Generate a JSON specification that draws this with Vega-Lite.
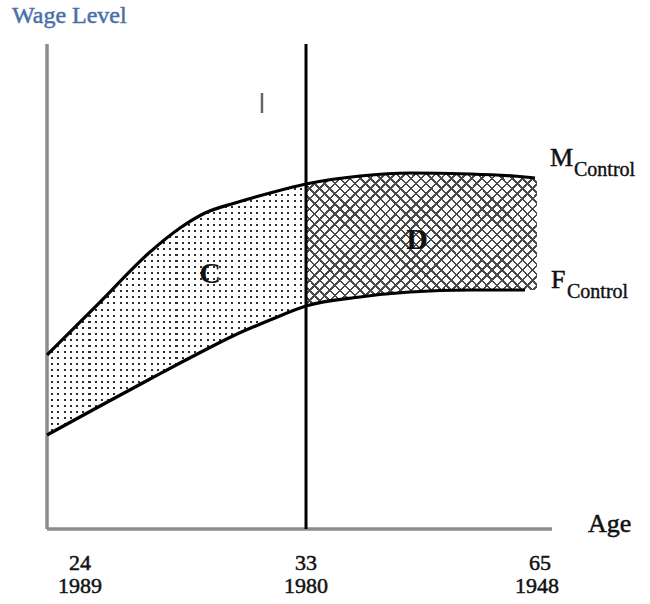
{
"$schema": "https://vega.github.io/schema/vega-lite/v6.json",
"width": 650, "height": 604, "padding": 0, "autosize": {"type": "none"},
"background": "white",
"config": {"view": {"stroke": null}},
"datasets": {
"band": [
{"region":"C","x":0,"y":35.88,"y2":19.38},
{"region":"C","x":10.5,"y":46.8,"y2":25.36},
{"region":"C","x":20.4,"y":57.11,"y2":30.93},
{"region":"C","x":26.34,"y":62.06,"y2":34.23},
{"region":"C","x":31.29,"y":65.15,"y2":36.91},
{"region":"C","x":37.23,"y":67.22,"y2":40.0},
{"region":"C","x":44.16,"y":69.28,"y2":43.09},
{"region":"C","x":51.29,"y":71.13,"y2":45.98},
{"region":"D","x":51.29,"y":71.13,"y2":45.98},
{"region":"D","x":61.98,"y":72.78,"y2":47.84},
{"region":"D","x":71.88,"y":73.4,"y2":48.87},
{"region":"D","x":83.76,"y":73.2,"y2":49.28},
{"region":"D","x":94.65,"y":72.58,"y2":49.28},
{"region":"D","x":97.03,"y":72.37,"y2":49.28}
],
"curves": [
{"series":"M","x":0,"y":35.88},{"series":"M","x":10.5,"y":46.8},{"series":"M","x":20.4,"y":57.11},{"series":"M","x":26.34,"y":62.06},{"series":"M","x":31.29,"y":65.15},{"series":"M","x":37.23,"y":67.22},{"series":"M","x":44.16,"y":69.28},{"series":"M","x":51.29,"y":71.13},{"series":"M","x":61.98,"y":72.78},{"series":"M","x":71.88,"y":73.4},{"series":"M","x":83.76,"y":73.2},{"series":"M","x":94.65,"y":72.58},{"series":"M","x":96.63,"y":72.37},
{"series":"F","x":0,"y":19.38},{"series":"F","x":10.5,"y":25.36},{"series":"F","x":20.4,"y":30.93},{"series":"F","x":26.34,"y":34.23},{"series":"F","x":31.29,"y":36.91},{"series":"F","x":37.23,"y":40.0},{"series":"F","x":44.16,"y":43.09},{"series":"F","x":51.29,"y":45.98},{"series":"F","x":61.98,"y":47.84},{"series":"F","x":71.88,"y":48.87},{"series":"F","x":83.76,"y":49.28},{"series":"F","x":94.65,"y":49.28}
],
"frame": [{"x":0,"y":0,"x2":0,"y2":100},{"x":0,"y":0,"x2":100,"y2":0}],
"vline": [{"x":51.29,"y":0,"y2":100}],
"stray": [{"x":42.57,"y":89.9,"y2":85.77}],
"ticks": [{"label":"24","x":6.53,"y":-8.45},{"label":"1989","x":6.53,"y":-13.2},{"label":"33","x":51.29,"y":-8.45},{"label":"1980","x":51.29,"y":-13.2},{"label":"65","x":97.62,"y":-8.45},{"label":"1948","x":97.03,"y":-13.2}],
"big": [{"label":"M","x":99.6,"y":74.85},{"label":"F","x":99.8,"y":49.69},{"label":"Age","x":107.13,"y":-0.62}],
"sub": [{"label":"Control","x":104.36,"y":72.78},{"label":"Control","x":102.97,"y":47.63}],
"regions": [{"label":"C","x":32.28,"y":50.72},{"label":"D","x":73.27,"y":57.73}],
"title": [{"label":"Wage Level","x":-6.93,"y":104.4}]
},
"encoding": {
"x": {"field":"x","type":"quantitative","scale":{"domain":[-9.31,119.41],"nice":false,"zero":false},"axis":null},
"y": {"field":"y","type":"quantitative","scale":{"domain":[-15.46,109.07],"nice":false,"zero":false},"axis":null}
},
"layer": [
{"data":{"name":"band"},"transform":[{"filter":"datum.region==='C'"}],"mark":{"type":"area","interpolate":"monotone","fill":"#2e2e2e"},"encoding":{"y2":{"field":"y2"}}},
{"data":{"name":"band"},"transform":[{"filter":"datum.region==='C'"}],"mark":{"type":"area","interpolate":"monotone","fill":{"gradient":"linear","x1":0,"y1":0,"x2":1,"y2":0,"stops":[
{"offset":0,"color":"#fff"},{"offset":0.016,"color":"#fff"},{"offset":0.016,"color":"#fff0"},{"offset":0.024,"color":"#fff0"},
{"offset":0.024,"color":"#fff"},{"offset":0.04,"color":"#fff"},{"offset":0.04,"color":"#fff0"},{"offset":0.048,"color":"#fff0"},
{"offset":0.048,"color":"#fff"},{"offset":0.064,"color":"#fff"},{"offset":0.064,"color":"#fff0"},{"offset":0.072,"color":"#fff0"},
{"offset":0.072,"color":"#fff"},{"offset":0.088,"color":"#fff"},{"offset":0.088,"color":"#fff0"},{"offset":0.096,"color":"#fff0"},
{"offset":0.096,"color":"#fff"},{"offset":0.112,"color":"#fff"},{"offset":0.112,"color":"#fff0"},{"offset":0.12,"color":"#fff0"},
{"offset":0.12,"color":"#fff"},{"offset":0.136,"color":"#fff"},{"offset":0.136,"color":"#fff0"},{"offset":0.144,"color":"#fff0"},
{"offset":0.144,"color":"#fff"},{"offset":0.16,"color":"#fff"},{"offset":0.16,"color":"#fff0"},{"offset":0.168,"color":"#fff0"},
{"offset":0.168,"color":"#fff"},{"offset":0.184,"color":"#fff"},{"offset":0.184,"color":"#fff0"},{"offset":0.192,"color":"#fff0"},
{"offset":0.192,"color":"#fff"},{"offset":0.208,"color":"#fff"},{"offset":0.208,"color":"#fff0"},{"offset":0.216,"color":"#fff0"},
{"offset":0.216,"color":"#fff"},{"offset":0.232,"color":"#fff"},{"offset":0.232,"color":"#fff0"},{"offset":0.24,"color":"#fff0"},
{"offset":0.24,"color":"#fff"},{"offset":0.256,"color":"#fff"},{"offset":0.256,"color":"#fff0"},{"offset":0.264,"color":"#fff0"},
{"offset":0.264,"color":"#fff"},{"offset":0.28,"color":"#fff"},{"offset":0.28,"color":"#fff0"},{"offset":0.288,"color":"#fff0"},
{"offset":0.288,"color":"#fff"},{"offset":0.304,"color":"#fff"},{"offset":0.304,"color":"#fff0"},{"offset":0.312,"color":"#fff0"},
{"offset":0.312,"color":"#fff"},{"offset":0.328,"color":"#fff"},{"offset":0.328,"color":"#fff0"},{"offset":0.336,"color":"#fff0"},
{"offset":0.336,"color":"#fff"},{"offset":0.352,"color":"#fff"},{"offset":0.352,"color":"#fff0"},{"offset":0.36,"color":"#fff0"},
{"offset":0.36,"color":"#fff"},{"offset":0.376,"color":"#fff"},{"offset":0.376,"color":"#fff0"},{"offset":0.384,"color":"#fff0"},
{"offset":0.384,"color":"#fff"},{"offset":0.4,"color":"#fff"},{"offset":0.4,"color":"#fff0"},{"offset":0.408,"color":"#fff0"},
{"offset":0.408,"color":"#fff"},{"offset":0.424,"color":"#fff"},{"offset":0.424,"color":"#fff0"},{"offset":0.432,"color":"#fff0"},
{"offset":0.432,"color":"#fff"},{"offset":0.448,"color":"#fff"},{"offset":0.448,"color":"#fff0"},{"offset":0.456,"color":"#fff0"},
{"offset":0.456,"color":"#fff"},{"offset":0.472,"color":"#fff"},{"offset":0.472,"color":"#fff0"},{"offset":0.48,"color":"#fff0"},
{"offset":0.48,"color":"#fff"},{"offset":0.496,"color":"#fff"},{"offset":0.496,"color":"#fff0"},{"offset":0.504,"color":"#fff0"},
{"offset":0.504,"color":"#fff"},{"offset":0.52,"color":"#fff"},{"offset":0.52,"color":"#fff0"},{"offset":0.528,"color":"#fff0"},
{"offset":0.528,"color":"#fff"},{"offset":0.544,"color":"#fff"},{"offset":0.544,"color":"#fff0"},{"offset":0.552,"color":"#fff0"},
{"offset":0.552,"color":"#fff"},{"offset":0.568,"color":"#fff"},{"offset":0.568,"color":"#fff0"},{"offset":0.576,"color":"#fff0"},
{"offset":0.576,"color":"#fff"},{"offset":0.592,"color":"#fff"},{"offset":0.592,"color":"#fff0"},{"offset":0.6,"color":"#fff0"},
{"offset":0.6,"color":"#fff"},{"offset":0.616,"color":"#fff"},{"offset":0.616,"color":"#fff0"},{"offset":0.624,"color":"#fff0"},
{"offset":0.624,"color":"#fff"},{"offset":0.64,"color":"#fff"},{"offset":0.64,"color":"#fff0"},{"offset":0.648,"color":"#fff0"},
{"offset":0.648,"color":"#fff"},{"offset":0.664,"color":"#fff"},{"offset":0.664,"color":"#fff0"},{"offset":0.672,"color":"#fff0"},
{"offset":0.672,"color":"#fff"},{"offset":0.688,"color":"#fff"},{"offset":0.688,"color":"#fff0"},{"offset":0.696,"color":"#fff0"},
{"offset":0.696,"color":"#fff"},{"offset":0.712,"color":"#fff"},{"offset":0.712,"color":"#fff0"},{"offset":0.72,"color":"#fff0"},
{"offset":0.72,"color":"#fff"},{"offset":0.736,"color":"#fff"},{"offset":0.736,"color":"#fff0"},{"offset":0.744,"color":"#fff0"},
{"offset":0.744,"color":"#fff"},{"offset":0.76,"color":"#fff"},{"offset":0.76,"color":"#fff0"},{"offset":0.768,"color":"#fff0"},
{"offset":0.768,"color":"#fff"},{"offset":0.784,"color":"#fff"},{"offset":0.784,"color":"#fff0"},{"offset":0.792,"color":"#fff0"},
{"offset":0.792,"color":"#fff"},{"offset":0.808,"color":"#fff"},{"offset":0.808,"color":"#fff0"},{"offset":0.816,"color":"#fff0"},
{"offset":0.816,"color":"#fff"},{"offset":0.832,"color":"#fff"},{"offset":0.832,"color":"#fff0"},{"offset":0.84,"color":"#fff0"},
{"offset":0.84,"color":"#fff"},{"offset":0.856,"color":"#fff"},{"offset":0.856,"color":"#fff0"},{"offset":0.864,"color":"#fff0"},
{"offset":0.864,"color":"#fff"},{"offset":0.88,"color":"#fff"},{"offset":0.88,"color":"#fff0"},{"offset":0.888,"color":"#fff0"},
{"offset":0.888,"color":"#fff"},{"offset":0.904,"color":"#fff"},{"offset":0.904,"color":"#fff0"},{"offset":0.912,"color":"#fff0"},
{"offset":0.912,"color":"#fff"},{"offset":0.928,"color":"#fff"},{"offset":0.928,"color":"#fff0"},{"offset":0.936,"color":"#fff0"},
{"offset":0.936,"color":"#fff"},{"offset":0.952,"color":"#fff"},{"offset":0.952,"color":"#fff0"},{"offset":0.96,"color":"#fff0"},
{"offset":0.96,"color":"#fff"},{"offset":0.976,"color":"#fff"},{"offset":0.976,"color":"#fff0"},{"offset":0.984,"color":"#fff0"},
{"offset":0.984,"color":"#fff"},{"offset":1,"color":"#fff"}
]}},"encoding":{"y2":{"field":"y2"}}},
{"data":{"name":"band"},"transform":[{"filter":"datum.region==='C'"}],"mark":{"type":"area","interpolate":"monotone","fill":{"gradient":"linear","x1":0,"y1":0,"x2":0,"y2":1,"stops":[
{"offset":0,"color":"#fff"},{"offset":0.016,"color":"#fff"},{"offset":0.016,"color":"#fff0"},{"offset":0.024,"color":"#fff0"},
{"offset":0.024,"color":"#fff"},{"offset":0.04,"color":"#fff"},{"offset":0.04,"color":"#fff0"},{"offset":0.048,"color":"#fff0"},
{"offset":0.048,"color":"#fff"},{"offset":0.064,"color":"#fff"},{"offset":0.064,"color":"#fff0"},{"offset":0.072,"color":"#fff0"},
{"offset":0.072,"color":"#fff"},{"offset":0.088,"color":"#fff"},{"offset":0.088,"color":"#fff0"},{"offset":0.096,"color":"#fff0"},
{"offset":0.096,"color":"#fff"},{"offset":0.112,"color":"#fff"},{"offset":0.112,"color":"#fff0"},{"offset":0.12,"color":"#fff0"},
{"offset":0.12,"color":"#fff"},{"offset":0.136,"color":"#fff"},{"offset":0.136,"color":"#fff0"},{"offset":0.144,"color":"#fff0"},
{"offset":0.144,"color":"#fff"},{"offset":0.16,"color":"#fff"},{"offset":0.16,"color":"#fff0"},{"offset":0.168,"color":"#fff0"},
{"offset":0.168,"color":"#fff"},{"offset":0.184,"color":"#fff"},{"offset":0.184,"color":"#fff0"},{"offset":0.192,"color":"#fff0"},
{"offset":0.192,"color":"#fff"},{"offset":0.208,"color":"#fff"},{"offset":0.208,"color":"#fff0"},{"offset":0.216,"color":"#fff0"},
{"offset":0.216,"color":"#fff"},{"offset":0.232,"color":"#fff"},{"offset":0.232,"color":"#fff0"},{"offset":0.24,"color":"#fff0"},
{"offset":0.24,"color":"#fff"},{"offset":0.256,"color":"#fff"},{"offset":0.256,"color":"#fff0"},{"offset":0.264,"color":"#fff0"},
{"offset":0.264,"color":"#fff"},{"offset":0.28,"color":"#fff"},{"offset":0.28,"color":"#fff0"},{"offset":0.288,"color":"#fff0"},
{"offset":0.288,"color":"#fff"},{"offset":0.304,"color":"#fff"},{"offset":0.304,"color":"#fff0"},{"offset":0.312,"color":"#fff0"},
{"offset":0.312,"color":"#fff"},{"offset":0.328,"color":"#fff"},{"offset":0.328,"color":"#fff0"},{"offset":0.336,"color":"#fff0"},
{"offset":0.336,"color":"#fff"},{"offset":0.352,"color":"#fff"},{"offset":0.352,"color":"#fff0"},{"offset":0.36,"color":"#fff0"},
{"offset":0.36,"color":"#fff"},{"offset":0.376,"color":"#fff"},{"offset":0.376,"color":"#fff0"},{"offset":0.384,"color":"#fff0"},
{"offset":0.384,"color":"#fff"},{"offset":0.4,"color":"#fff"},{"offset":0.4,"color":"#fff0"},{"offset":0.408,"color":"#fff0"},
{"offset":0.408,"color":"#fff"},{"offset":0.424,"color":"#fff"},{"offset":0.424,"color":"#fff0"},{"offset":0.432,"color":"#fff0"},
{"offset":0.432,"color":"#fff"},{"offset":0.448,"color":"#fff"},{"offset":0.448,"color":"#fff0"},{"offset":0.456,"color":"#fff0"},
{"offset":0.456,"color":"#fff"},{"offset":0.472,"color":"#fff"},{"offset":0.472,"color":"#fff0"},{"offset":0.48,"color":"#fff0"},
{"offset":0.48,"color":"#fff"},{"offset":0.496,"color":"#fff"},{"offset":0.496,"color":"#fff0"},{"offset":0.504,"color":"#fff0"},
{"offset":0.504,"color":"#fff"},{"offset":0.52,"color":"#fff"},{"offset":0.52,"color":"#fff0"},{"offset":0.528,"color":"#fff0"},
{"offset":0.528,"color":"#fff"},{"offset":0.544,"color":"#fff"},{"offset":0.544,"color":"#fff0"},{"offset":0.552,"color":"#fff0"},
{"offset":0.552,"color":"#fff"},{"offset":0.568,"color":"#fff"},{"offset":0.568,"color":"#fff0"},{"offset":0.576,"color":"#fff0"},
{"offset":0.576,"color":"#fff"},{"offset":0.592,"color":"#fff"},{"offset":0.592,"color":"#fff0"},{"offset":0.6,"color":"#fff0"},
{"offset":0.6,"color":"#fff"},{"offset":0.616,"color":"#fff"},{"offset":0.616,"color":"#fff0"},{"offset":0.624,"color":"#fff0"},
{"offset":0.624,"color":"#fff"},{"offset":0.64,"color":"#fff"},{"offset":0.64,"color":"#fff0"},{"offset":0.648,"color":"#fff0"},
{"offset":0.648,"color":"#fff"},{"offset":0.664,"color":"#fff"},{"offset":0.664,"color":"#fff0"},{"offset":0.672,"color":"#fff0"},
{"offset":0.672,"color":"#fff"},{"offset":0.688,"color":"#fff"},{"offset":0.688,"color":"#fff0"},{"offset":0.696,"color":"#fff0"},
{"offset":0.696,"color":"#fff"},{"offset":0.712,"color":"#fff"},{"offset":0.712,"color":"#fff0"},{"offset":0.72,"color":"#fff0"},
{"offset":0.72,"color":"#fff"},{"offset":0.736,"color":"#fff"},{"offset":0.736,"color":"#fff0"},{"offset":0.744,"color":"#fff0"},
{"offset":0.744,"color":"#fff"},{"offset":0.76,"color":"#fff"},{"offset":0.76,"color":"#fff0"},{"offset":0.768,"color":"#fff0"},
{"offset":0.768,"color":"#fff"},{"offset":0.784,"color":"#fff"},{"offset":0.784,"color":"#fff0"},{"offset":0.792,"color":"#fff0"},
{"offset":0.792,"color":"#fff"},{"offset":0.808,"color":"#fff"},{"offset":0.808,"color":"#fff0"},{"offset":0.816,"color":"#fff0"},
{"offset":0.816,"color":"#fff"},{"offset":0.832,"color":"#fff"},{"offset":0.832,"color":"#fff0"},{"offset":0.84,"color":"#fff0"},
{"offset":0.84,"color":"#fff"},{"offset":0.856,"color":"#fff"},{"offset":0.856,"color":"#fff0"},{"offset":0.864,"color":"#fff0"},
{"offset":0.864,"color":"#fff"},{"offset":0.88,"color":"#fff"},{"offset":0.88,"color":"#fff0"},{"offset":0.888,"color":"#fff0"},
{"offset":0.888,"color":"#fff"},{"offset":0.904,"color":"#fff"},{"offset":0.904,"color":"#fff0"},{"offset":0.912,"color":"#fff0"},
{"offset":0.912,"color":"#fff"},{"offset":0.928,"color":"#fff"},{"offset":0.928,"color":"#fff0"},{"offset":0.936,"color":"#fff0"},
{"offset":0.936,"color":"#fff"},{"offset":0.952,"color":"#fff"},{"offset":0.952,"color":"#fff0"},{"offset":0.96,"color":"#fff0"},
{"offset":0.96,"color":"#fff"},{"offset":0.976,"color":"#fff"},{"offset":0.976,"color":"#fff0"},{"offset":0.984,"color":"#fff0"},
{"offset":0.984,"color":"#fff"},{"offset":1,"color":"#fff"}
]}},"encoding":{"y2":{"field":"y2"}}},
{"data":{"name":"band"},"transform":[{"filter":"datum.region==='C'"}],"mark":{"type":"area","interpolate":"monotone","fillOpacity":0,"stroke":"#7ea6d3","strokeWidth":1.3},"encoding":{"y2":{"field":"y2"}}},
{"data":{"name":"band"},"transform":[{"filter":"datum.region==='D'"}],"mark":{"type":"area","interpolate":"monotone","fill":{"gradient":"linear","x1":0,"y1":0,"x2":1.18,"y2":0.676,"stops":[
{"offset":0,"color":"#fff"},{"offset":0.021,"color":"#fff"},{"offset":0.021,"color":"#4a4a4a"},{"offset":0.028,"color":"#4a4a4a"},
{"offset":0.028,"color":"#fff"},{"offset":0.049,"color":"#fff"},{"offset":0.049,"color":"#4a4a4a"},{"offset":0.056,"color":"#4a4a4a"},
{"offset":0.056,"color":"#fff"},{"offset":0.077,"color":"#fff"},{"offset":0.077,"color":"#4a4a4a"},{"offset":0.084,"color":"#4a4a4a"},
{"offset":0.084,"color":"#fff"},{"offset":0.105,"color":"#fff"},{"offset":0.105,"color":"#4a4a4a"},{"offset":0.112,"color":"#4a4a4a"},
{"offset":0.112,"color":"#fff"},{"offset":0.133,"color":"#fff"},{"offset":0.133,"color":"#4a4a4a"},{"offset":0.14,"color":"#4a4a4a"},
{"offset":0.14,"color":"#fff"},{"offset":0.161,"color":"#fff"},{"offset":0.161,"color":"#4a4a4a"},{"offset":0.168,"color":"#4a4a4a"},
{"offset":0.168,"color":"#fff"},{"offset":0.189,"color":"#fff"},{"offset":0.189,"color":"#4a4a4a"},{"offset":0.196,"color":"#4a4a4a"},
{"offset":0.196,"color":"#fff"},{"offset":0.217,"color":"#fff"},{"offset":0.217,"color":"#4a4a4a"},{"offset":0.224,"color":"#4a4a4a"},
{"offset":0.224,"color":"#fff"},{"offset":0.245,"color":"#fff"},{"offset":0.245,"color":"#4a4a4a"},{"offset":0.252,"color":"#4a4a4a"},
{"offset":0.252,"color":"#fff"},{"offset":0.273,"color":"#fff"},{"offset":0.273,"color":"#4a4a4a"},{"offset":0.28,"color":"#4a4a4a"},
{"offset":0.28,"color":"#fff"},{"offset":0.301,"color":"#fff"},{"offset":0.301,"color":"#4a4a4a"},{"offset":0.308,"color":"#4a4a4a"},
{"offset":0.308,"color":"#fff"},{"offset":0.329,"color":"#fff"},{"offset":0.329,"color":"#4a4a4a"},{"offset":0.336,"color":"#4a4a4a"},
{"offset":0.336,"color":"#fff"},{"offset":0.357,"color":"#fff"},{"offset":0.357,"color":"#4a4a4a"},{"offset":0.364,"color":"#4a4a4a"},
{"offset":0.364,"color":"#fff"},{"offset":0.385,"color":"#fff"},{"offset":0.385,"color":"#4a4a4a"},{"offset":0.392,"color":"#4a4a4a"},
{"offset":0.392,"color":"#fff"},{"offset":0.413,"color":"#fff"},{"offset":0.413,"color":"#4a4a4a"},{"offset":0.42,"color":"#4a4a4a"},
{"offset":0.42,"color":"#fff"},{"offset":0.441,"color":"#fff"},{"offset":0.441,"color":"#4a4a4a"},{"offset":0.448,"color":"#4a4a4a"},
{"offset":0.448,"color":"#fff"},{"offset":0.469,"color":"#fff"},{"offset":0.469,"color":"#4a4a4a"},{"offset":0.476,"color":"#4a4a4a"},
{"offset":0.476,"color":"#fff"},{"offset":0.497,"color":"#fff"},{"offset":0.497,"color":"#4a4a4a"},{"offset":0.504,"color":"#4a4a4a"},
{"offset":0.504,"color":"#fff"},{"offset":0.525,"color":"#fff"},{"offset":0.525,"color":"#4a4a4a"},{"offset":0.532,"color":"#4a4a4a"},
{"offset":0.532,"color":"#fff"},{"offset":0.553,"color":"#fff"},{"offset":0.553,"color":"#4a4a4a"},{"offset":0.56,"color":"#4a4a4a"},
{"offset":0.56,"color":"#fff"},{"offset":0.581,"color":"#fff"},{"offset":0.581,"color":"#4a4a4a"},{"offset":0.588,"color":"#4a4a4a"},
{"offset":0.588,"color":"#fff"},{"offset":0.609,"color":"#fff"},{"offset":0.609,"color":"#4a4a4a"},{"offset":0.616,"color":"#4a4a4a"},
{"offset":0.616,"color":"#fff"},{"offset":0.637,"color":"#fff"},{"offset":0.637,"color":"#4a4a4a"},{"offset":0.644,"color":"#4a4a4a"},
{"offset":0.644,"color":"#fff"},{"offset":0.665,"color":"#fff"},{"offset":0.665,"color":"#4a4a4a"},{"offset":0.672,"color":"#4a4a4a"},
{"offset":0.672,"color":"#fff"},{"offset":0.693,"color":"#fff"},{"offset":0.693,"color":"#4a4a4a"},{"offset":0.7,"color":"#4a4a4a"},
{"offset":0.7,"color":"#fff"},{"offset":0.721,"color":"#fff"},{"offset":0.721,"color":"#4a4a4a"},{"offset":0.728,"color":"#4a4a4a"},
{"offset":0.728,"color":"#fff"},{"offset":0.749,"color":"#fff"},{"offset":0.749,"color":"#4a4a4a"},{"offset":0.756,"color":"#4a4a4a"},
{"offset":0.756,"color":"#fff"},{"offset":0.777,"color":"#fff"},{"offset":0.777,"color":"#4a4a4a"},{"offset":0.784,"color":"#4a4a4a"},
{"offset":0.784,"color":"#fff"},{"offset":0.805,"color":"#fff"},{"offset":0.805,"color":"#4a4a4a"},{"offset":0.812,"color":"#4a4a4a"},
{"offset":0.812,"color":"#fff"},{"offset":0.833,"color":"#fff"},{"offset":0.833,"color":"#4a4a4a"},{"offset":0.84,"color":"#4a4a4a"},
{"offset":0.84,"color":"#fff"},{"offset":0.861,"color":"#fff"},{"offset":0.861,"color":"#4a4a4a"},{"offset":0.868,"color":"#4a4a4a"},
{"offset":0.868,"color":"#fff"},{"offset":0.889,"color":"#fff"},{"offset":0.889,"color":"#4a4a4a"},{"offset":0.896,"color":"#4a4a4a"},
{"offset":0.896,"color":"#fff"},{"offset":0.917,"color":"#fff"},{"offset":0.917,"color":"#4a4a4a"},{"offset":0.924,"color":"#4a4a4a"},
{"offset":0.924,"color":"#fff"},{"offset":0.945,"color":"#fff"},{"offset":0.945,"color":"#4a4a4a"},{"offset":0.952,"color":"#4a4a4a"},
{"offset":0.952,"color":"#fff"},{"offset":0.973,"color":"#fff"},{"offset":0.973,"color":"#4a4a4a"},{"offset":0.98,"color":"#4a4a4a"},
{"offset":0.98,"color":"#fff"},{"offset":1,"color":"#fff"}
]}},"encoding":{"y2":{"field":"y2"}}},
{"data":{"name":"band"},"transform":[{"filter":"datum.region==='D'"}],"mark":{"type":"area","interpolate":"monotone","fill":{"gradient":"linear","x1":0,"y1":1,"x2":1.18,"y2":0.324,"stops":[
{"offset":0,"color":"#fff0"},{"offset":0.021,"color":"#fff0"},{"offset":0.021,"color":"#4a4a4a"},{"offset":0.028,"color":"#4a4a4a"},
{"offset":0.028,"color":"#fff0"},{"offset":0.049,"color":"#fff0"},{"offset":0.049,"color":"#4a4a4a"},{"offset":0.056,"color":"#4a4a4a"},
{"offset":0.056,"color":"#fff0"},{"offset":0.077,"color":"#fff0"},{"offset":0.077,"color":"#4a4a4a"},{"offset":0.084,"color":"#4a4a4a"},
{"offset":0.084,"color":"#fff0"},{"offset":0.105,"color":"#fff0"},{"offset":0.105,"color":"#4a4a4a"},{"offset":0.112,"color":"#4a4a4a"},
{"offset":0.112,"color":"#fff0"},{"offset":0.133,"color":"#fff0"},{"offset":0.133,"color":"#4a4a4a"},{"offset":0.14,"color":"#4a4a4a"},
{"offset":0.14,"color":"#fff0"},{"offset":0.161,"color":"#fff0"},{"offset":0.161,"color":"#4a4a4a"},{"offset":0.168,"color":"#4a4a4a"},
{"offset":0.168,"color":"#fff0"},{"offset":0.189,"color":"#fff0"},{"offset":0.189,"color":"#4a4a4a"},{"offset":0.196,"color":"#4a4a4a"},
{"offset":0.196,"color":"#fff0"},{"offset":0.217,"color":"#fff0"},{"offset":0.217,"color":"#4a4a4a"},{"offset":0.224,"color":"#4a4a4a"},
{"offset":0.224,"color":"#fff0"},{"offset":0.245,"color":"#fff0"},{"offset":0.245,"color":"#4a4a4a"},{"offset":0.252,"color":"#4a4a4a"},
{"offset":0.252,"color":"#fff0"},{"offset":0.273,"color":"#fff0"},{"offset":0.273,"color":"#4a4a4a"},{"offset":0.28,"color":"#4a4a4a"},
{"offset":0.28,"color":"#fff0"},{"offset":0.301,"color":"#fff0"},{"offset":0.301,"color":"#4a4a4a"},{"offset":0.308,"color":"#4a4a4a"},
{"offset":0.308,"color":"#fff0"},{"offset":0.329,"color":"#fff0"},{"offset":0.329,"color":"#4a4a4a"},{"offset":0.336,"color":"#4a4a4a"},
{"offset":0.336,"color":"#fff0"},{"offset":0.357,"color":"#fff0"},{"offset":0.357,"color":"#4a4a4a"},{"offset":0.364,"color":"#4a4a4a"},
{"offset":0.364,"color":"#fff0"},{"offset":0.385,"color":"#fff0"},{"offset":0.385,"color":"#4a4a4a"},{"offset":0.392,"color":"#4a4a4a"},
{"offset":0.392,"color":"#fff0"},{"offset":0.413,"color":"#fff0"},{"offset":0.413,"color":"#4a4a4a"},{"offset":0.42,"color":"#4a4a4a"},
{"offset":0.42,"color":"#fff0"},{"offset":0.441,"color":"#fff0"},{"offset":0.441,"color":"#4a4a4a"},{"offset":0.448,"color":"#4a4a4a"},
{"offset":0.448,"color":"#fff0"},{"offset":0.469,"color":"#fff0"},{"offset":0.469,"color":"#4a4a4a"},{"offset":0.476,"color":"#4a4a4a"},
{"offset":0.476,"color":"#fff0"},{"offset":0.497,"color":"#fff0"},{"offset":0.497,"color":"#4a4a4a"},{"offset":0.504,"color":"#4a4a4a"},
{"offset":0.504,"color":"#fff0"},{"offset":0.525,"color":"#fff0"},{"offset":0.525,"color":"#4a4a4a"},{"offset":0.532,"color":"#4a4a4a"},
{"offset":0.532,"color":"#fff0"},{"offset":0.553,"color":"#fff0"},{"offset":0.553,"color":"#4a4a4a"},{"offset":0.56,"color":"#4a4a4a"},
{"offset":0.56,"color":"#fff0"},{"offset":0.581,"color":"#fff0"},{"offset":0.581,"color":"#4a4a4a"},{"offset":0.588,"color":"#4a4a4a"},
{"offset":0.588,"color":"#fff0"},{"offset":0.609,"color":"#fff0"},{"offset":0.609,"color":"#4a4a4a"},{"offset":0.616,"color":"#4a4a4a"},
{"offset":0.616,"color":"#fff0"},{"offset":0.637,"color":"#fff0"},{"offset":0.637,"color":"#4a4a4a"},{"offset":0.644,"color":"#4a4a4a"},
{"offset":0.644,"color":"#fff0"},{"offset":0.665,"color":"#fff0"},{"offset":0.665,"color":"#4a4a4a"},{"offset":0.672,"color":"#4a4a4a"},
{"offset":0.672,"color":"#fff0"},{"offset":0.693,"color":"#fff0"},{"offset":0.693,"color":"#4a4a4a"},{"offset":0.7,"color":"#4a4a4a"},
{"offset":0.7,"color":"#fff0"},{"offset":0.721,"color":"#fff0"},{"offset":0.721,"color":"#4a4a4a"},{"offset":0.728,"color":"#4a4a4a"},
{"offset":0.728,"color":"#fff0"},{"offset":0.749,"color":"#fff0"},{"offset":0.749,"color":"#4a4a4a"},{"offset":0.756,"color":"#4a4a4a"},
{"offset":0.756,"color":"#fff0"},{"offset":0.777,"color":"#fff0"},{"offset":0.777,"color":"#4a4a4a"},{"offset":0.784,"color":"#4a4a4a"},
{"offset":0.784,"color":"#fff0"},{"offset":0.805,"color":"#fff0"},{"offset":0.805,"color":"#4a4a4a"},{"offset":0.812,"color":"#4a4a4a"},
{"offset":0.812,"color":"#fff0"},{"offset":0.833,"color":"#fff0"},{"offset":0.833,"color":"#4a4a4a"},{"offset":0.84,"color":"#4a4a4a"},
{"offset":0.84,"color":"#fff0"},{"offset":0.861,"color":"#fff0"},{"offset":0.861,"color":"#4a4a4a"},{"offset":0.868,"color":"#4a4a4a"},
{"offset":0.868,"color":"#fff0"},{"offset":0.889,"color":"#fff0"},{"offset":0.889,"color":"#4a4a4a"},{"offset":0.896,"color":"#4a4a4a"},
{"offset":0.896,"color":"#fff0"},{"offset":0.917,"color":"#fff0"},{"offset":0.917,"color":"#4a4a4a"},{"offset":0.924,"color":"#4a4a4a"},
{"offset":0.924,"color":"#fff0"},{"offset":0.945,"color":"#fff0"},{"offset":0.945,"color":"#4a4a4a"},{"offset":0.952,"color":"#4a4a4a"},
{"offset":0.952,"color":"#fff0"},{"offset":0.973,"color":"#fff0"},{"offset":0.973,"color":"#4a4a4a"},{"offset":0.98,"color":"#4a4a4a"},
{"offset":0.98,"color":"#fff0"},{"offset":1,"color":"#fff0"}
]}},"encoding":{"y2":{"field":"y2"}}},
{"data":{"name":"frame"},"mark":{"type":"rule","color":"#8c8c8c","strokeWidth":3.5},"encoding":{"x2":{"field":"x2"},"y2":{"field":"y2"}}},
{"data":{"name":"vline"},"mark":{"type":"rule","color":"#000","strokeWidth":3},"encoding":{"y2":{"field":"y2"}}},
{"data":{"name":"stray"},"mark":{"type":"rule","color":"#666","strokeWidth":2.5},"encoding":{"y2":{"field":"y2"}}},
{"data":{"name":"curves"},"mark":{"type":"line","interpolate":"monotone","color":"#000","strokeWidth":3.2},"encoding":{"detail":{"field":"series"}}},
{"data":{"name":"ticks"},"mark":{"type":"text","font":"Liberation Serif","fontSize":22,"align":"center","baseline":"alphabetic","color":"#111","stroke":"#111","strokeWidth":0.5},"encoding":{"text":{"field":"label"}}},
{"data":{"name":"big"},"mark":{"type":"text","font":"Liberation Serif","fontSize":26,"align":"left","baseline":"alphabetic","color":"#111","stroke":"#111","strokeWidth":0.5},"encoding":{"text":{"field":"label"}}},
{"data":{"name":"sub"},"mark":{"type":"text","font":"Liberation Serif","fontSize":20,"align":"left","baseline":"alphabetic","color":"#111","stroke":"#111","strokeWidth":0.4},"encoding":{"text":{"field":"label"}}},
{"data":{"name":"regions"},"mark":{"type":"text","font":"Liberation Serif","fontSize":30,"fontWeight":"bold","align":"center","baseline":"alphabetic","color":"#111"},"encoding":{"text":{"field":"label"}}},
{"data":{"name":"title"},"mark":{"type":"text","font":"Liberation Serif","fontSize":24,"align":"left","baseline":"alphabetic","color":"#4a70a8","stroke":"#4a70a8","strokeWidth":0.5},"encoding":{"text":{"field":"label"}}}
]
}
